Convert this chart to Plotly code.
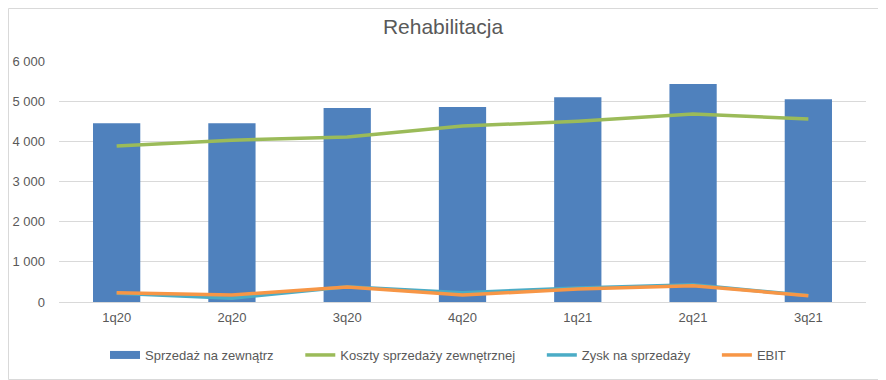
import plotly.graph_objects as go

categories = ["1q20", "2q20", "3q20", "4q20", "1q21", "2q21", "3q21"]
sprzedaz = [4450, 4450, 4830, 4855, 5100, 5430, 5050]
koszty = [3885, 4030, 4110, 4380, 4500, 4680, 4555]
zysk = [216, 95, 382, 232, 348, 431, 160]
ebit = [232, 174, 373, 174, 323, 406, 157]
series_names = ["Sprzedaż na zewnątrz", "Koszty sprzedaży zewnętrznej", "Zysk na sprzedaży", "EBIT"]

# the page body has an 8px margin, so lay the figure out 8px up/left
OFF = 8
W, H = 886 - OFF, 380 - OFF
ml, mr, mt, mb = 59 - OFF, 20, 61 - OFF, 78
pad = "\u00a0" * 6

fig = go.Figure()
fig.add_trace(go.Bar(x=categories, y=sprzedaz, name=series_names[0] + pad,
                     marker=dict(color="#4F81BD", line=dict(width=0)),
                     legendgroup="s", showlegend=False))
# legend proxy for the bar series (wide rectangle swatch like the reference)
fig.add_trace(go.Scatter(x=[None], y=[None], name=series_names[0] + pad, mode="lines",
                         line=dict(color="#4F81BD", width=8), legendgroup="s"))
fig.add_trace(go.Scatter(x=categories, y=koszty, name=series_names[1] + pad,
                         mode="lines", line=dict(color="#9BBB59", width=3.5)))
fig.add_trace(go.Scatter(x=categories, y=zysk, name=series_names[2] + pad,
                         mode="lines", line=dict(color="#4BACC6", width=3.5)))
fig.add_trace(go.Scatter(x=categories, y=ebit, name=series_names[3],
                         mode="lines", line=dict(color="#F79646", width=3.5)))

pw = W - ml - mr
ph = H - mt - mb
fig.add_shape(type="rect", xref="paper", yref="paper",
              x0=(0.5 - ml) / pw, x1=(W - 0.5 - ml) / pw,
              y0=-(mb - 0.5) / ph, y1=1 + (mt - 0.5) / ph,
              line=dict(color="#D9D9D9", width=1), layer="below")

fig.update_layout(
    width=W, height=H,
    margin=dict(l=ml, r=mr, t=mt, b=mb, autoexpand=False),
    paper_bgcolor="white", plot_bgcolor="white",
    separators=", ",
    font=dict(family="Liberation Sans, Arial", size=13, color="#595959"),
    title=dict(text="Rehabilitacja", xref="container", x=(443 - OFF) / W, xanchor="center",
               yref="container", y=1 - (27 - OFF) / H, yanchor="middle",
               font=dict(size=21, color="#595959")),
    bargap=0.59,
    showlegend=True,
    legend=dict(orientation="h", xref="container", x=(448 - OFF) / W, xanchor="center",
                yref="container", y=1 - (355 - OFF) / H, yanchor="middle",
                font=dict(size=13, color="#595959"), itemwidth=30, tracegroupgap=0,
                bgcolor="rgba(0,0,0,0)"),
    xaxis=dict(showgrid=False, showline=False, ticks="", automargin=False,
               ticklabelstandoff=6, tickfont=dict(size=13, color="#595959")),
    yaxis=dict(range=[0, 6000], dtick=1000, tickformat=",d", showgrid=True, gridcolor="#D9D9D9",
               gridwidth=1, zeroline=True, zerolinecolor="#D9D9D9", zerolinewidth=1,
               showline=False, ticks="", ticklen=0, automargin=False, ticklabelstandoff=13,
               tickfont=dict(size=13, color="#595959")),
)

fig.write_html("out.html")
